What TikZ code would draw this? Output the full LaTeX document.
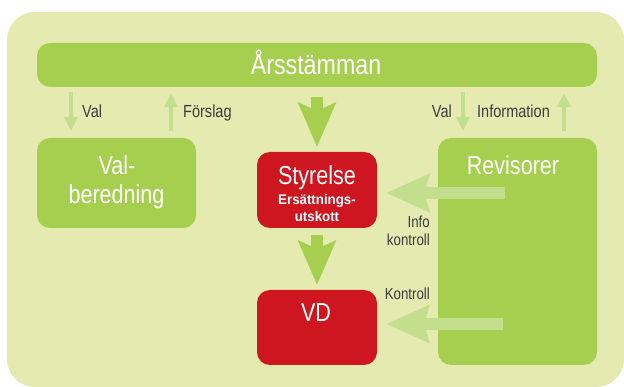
\documentclass[tikz,border=0pt]{standalone}
\usepackage{fontspec}
\setmainfont{Liberation Sans}[FakeStretch=0.83]
\newfontfamily\ersfont{Liberation Sans}[FakeStretch=0.95]
\usetikzlibrary{arrows.meta}
\definecolor{bg}{HTML}{E5EBB0}
\definecolor{gbox}{HTML}{A7CF4F}
\definecolor{rbox}{HTML}{CE1620}
\definecolor{larrow}{HTML}{C3DF8E}
\definecolor{lbl}{HTML}{3C3C3C}
\begin{document}
\begin{tikzpicture}[x=1pt,y=-1pt,
  box/.style={rectangle, rounded corners=13pt, inner sep=0pt, outer sep=0pt},
  gb/.style={box, fill=gbox},
  rb/.style={box, fill=rbox},
  bigtxt/.style={font=\fontsize{26}{29}\selectfont, text=white, inner sep=0pt, anchor=base},
  lbltxt/.style={font=\fontsize{17.5}{20}\selectfont, text=lbl, inner sep=0pt},
  sidetxt/.style={font=\fontsize{16}{18}\selectfont, text=lbl, inner sep=0pt, anchor=base east},
  erstxt/.style={font=\ersfont\bfseries\fontsize{14}{16}\selectfont, text=white, inner sep=0pt, anchor=base},
  thinarrow/.style={draw=larrow, line width=3.5pt, -{Triangle[length=14pt,width=13pt]}},
  bigarrow/.style={draw=gbox, line width=12pt, -{Stealth[length=44pt,width=37pt,inset=8pt]}},
  sidearrow/.style={draw=larrow, line width=12pt, -{Stealth[length=43pt,width=37pt,inset=5pt]}},
]
\path[use as bounding box] (0,0) rectangle (624,387);
\fill[bg, rounded corners=28pt] (7,12) rectangle (624,387);

% boxes
\node[gb, minimum width=560pt, minimum height=44pt] (ars) at (317,65) {};
\node[gb, minimum width=159pt, minimum height=90pt] (vb) at (116.5,183) {};
\node[rb, minimum width=120pt, minimum height=76pt] (sty) at (317,190) {};
\node[rb, minimum width=120pt, minimum height=75pt] (vd) at (317,327.5) {};
\node[gb, minimum width=159pt, minimum height=227pt] (rev) at (517.5,251.5) {};

% box texts
\node[bigtxt, font=\fontsize{28}{30}\selectfont] (arst) at (316,75) {Årsstämman};
\node[bigtxt] (vbt1) at (117,175) {Val-};
\node[bigtxt] (vbt2) at (116.5,204) {beredning};
\node[bigtxt] (styt) at (317,185) {Styrelse};
\node[erstxt] (ers1) at (317,205) {Ersättnings-};
\node[erstxt] (ers2) at (317,222) {utskott};
\node[bigtxt] (vdt) at (316,322) {VD};
\node[bigtxt] (revt) at (513,175) {Revisorer};

% small labels
\node[lbltxt, anchor=base west] (lval1) at (82,118) {Val};
\node[lbltxt, anchor=base west] (lfor) at (183,118) {Förslag};
\node[lbltxt, anchor=base east] (lval2) at (452,118) {Val};
\node[lbltxt, anchor=base west] (linf) at (477,118) {Information};
\node[sidetxt] (linfo) at (430,228) {Info};
\node[sidetxt] (lkon1) at (430,246) {kontroll};
\node[sidetxt] (lkon2) at (430,300) {Kontroll};

% thin arrows
\coordinate (xa1) at (71,0);
\coordinate (xa2) at (171,0);
\coordinate (xa3) at (463,0);
\coordinate (xa4) at (564,0);
\draw[thinarrow, shorten <=5pt, shorten >=7pt] (ars.south -| xa1) -- (vb.north -| xa1);
\draw[thinarrow, shorten <=7pt, shorten >=6pt] (vb.north -| xa2) -- (ars.south -| xa2);
\draw[thinarrow, shorten <=5pt, shorten >=7pt] (ars.south -| xa3) -- (rev.north -| xa3);
\draw[thinarrow, shorten <=7pt, shorten >=6pt] (rev.north -| xa4) -- (ars.south -| xa4);

% big arrows
\draw[bigarrow, shorten <=10pt, shorten >=5pt] (ars.south) -- (sty.north);
\draw[bigarrow, shorten <=7pt, shorten >=5pt] (sty.south) -- (vd.north);

% side arrows
\coordinate (h1) at (505,193);
\coordinate (h2) at (503,324);
\draw[sidearrow, shorten >=9pt] (h1) -- (sty.east |- h1);
\draw[sidearrow, shorten >=9pt] (h2) -- (vd.east |- h2);
\end{tikzpicture}
\end{document}
